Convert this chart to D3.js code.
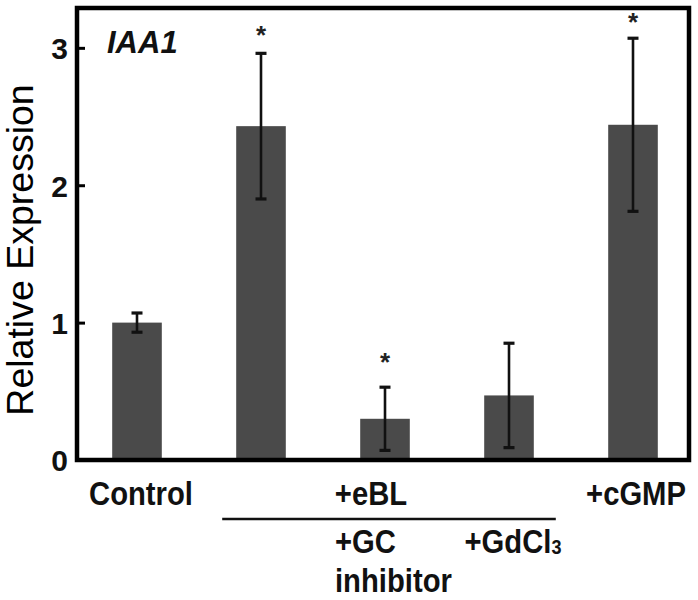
<!DOCTYPE html>
<html>
<head>
<meta charset="utf-8">
<script src="https://cdn.jsdelivr.net/npm/d3@7"></script>
<style>
  html, body { margin: 0; padding: 0; background: #fff; }
  svg { display: block; }
</style>
</head>
<body>
<svg id="chart" width="698" height="600"></svg>
<script>
// ---- data ----
const categories = ["Control", "+eBL", "+eBL +GC inhibitor", "+eBL +GdCl3", "+cGMP"];
const values = [1.00, 2.43, 0.30, 0.47, 2.44];
const errors = [0.07, 0.53, 0.23, 0.38, 0.63];
const significant = [false, true, true, false, true];
const starLevels = [null, 3.11, 0.73, null, 3.20];
const yTicks = [0, 1, 2, 3];
const geneLabel = "IAA1";
const yTitle = "Relative Expression";

(function () {
// ---- layout ----
const svg = d3.select("#chart");
const pLeft = 77, pRight = 689, pTop = 8, pBottom = 460;
const labelFont = "'Liberation Sans', Arial, sans-serif";

const x = d3.scaleBand().domain(categories).range([75, 695]).paddingInner(0.6).paddingOuter(0.3);
const y = d3.scaleLinear().domain([0, 3.29]).range([pBottom, pTop]);
const cx = c => x(c) + x.bandwidth() / 2;

// bars
svg.append("g").selectAll("rect").data(categories).join("rect")
  .attr("x", d => x(d))
  .attr("width", x.bandwidth())
  .attr("y", (d, i) => y(values[i]))
  .attr("height", (d, i) => y(0) - y(values[i]))
  .attr("fill", "#4a4a4a");

// error bars
const eg = svg.append("g").attr("stroke", "#111").attr("stroke-width", 2.6);
categories.forEach((c, i) => {
  const xc = cx(c);
  const hi = y(values[i] + errors[i]), lo = y(values[i] - errors[i]);
  eg.append("line").attr("x1", xc).attr("x2", xc).attr("y1", hi).attr("y2", lo);
  eg.append("line").attr("x1", xc - 5.5).attr("x2", xc + 5.5).attr("y1", hi).attr("y2", hi).attr("stroke-width", 3.2);
  eg.append("line").attr("x1", xc - 5.5).attr("x2", xc + 5.5).attr("y1", lo).attr("y2", lo).attr("stroke-width", 3.2);
});

// significance stars
svg.append("g").selectAll("text").data(categories.filter((c, i) => significant[i])).join("text")
  .attr("x", d => cx(d))
  .attr("y", d => y(starLevels[categories.indexOf(d)]) + 11)
  .attr("text-anchor", "middle")
  .attr("font-family", "'Liberation Sans', Arial, sans-serif")
  .attr("font-weight", "bold")
  .attr("font-size", 26)
  .attr("fill", "#222")
  .text("*");

// frame
svg.append("rect")
  .attr("x", pLeft).attr("y", pTop)
  .attr("width", pRight - pLeft).attr("height", pBottom - pTop)
  .attr("fill", "none").attr("stroke", "#000").attr("stroke-width", 4.5);

// y axis
const yAxis = d3.axisLeft(y).tickValues(yTicks).tickSize(-8).tickPadding(9).tickFormat(d3.format("d"));
const ga = svg.append("g").attr("transform", `translate(${pLeft},0)`).call(yAxis);
ga.select(".domain").remove();
ga.selectAll(".tick line").attr("stroke", "#000").attr("stroke-width", 3);
ga.selectAll(".tick text")
  .attr("font-family", "'Liberation Sans', Arial, sans-serif")
  .attr("font-weight", "bold")
  .attr("font-size", 30)
  .attr("fill", "#111")
  .attr("dy", "0.36em");

// y title
svg.append("text")
  .attr("transform", `translate(33, ${(pTop + pBottom) / 2 + 16}) rotate(-90)`)
  .attr("text-anchor", "middle")
  .attr("font-family", "'Liberation Sans', Arial, sans-serif")
  .attr("font-size", 37.5)
  .attr("fill", "#000")
  .text(yTitle);

// gene label
svg.append("text")
  .attr("x", 107).attr("y", 53)
  .attr("font-family", "'Liberation Sans', Arial, sans-serif")
  .attr("font-weight", "bold").attr("font-style", "italic")
  .attr("font-size", 31)
  .attr("fill", "#111")
  .text(geneLabel);

// category labels (condensed face)
const lab = (t, xx, yy, anchor) => svg.append("g")
  .attr("transform", `translate(${xx},${yy}) scale(0.86,1)`)
  .append("text")
  .attr("text-anchor", anchor || "middle")
  .attr("font-family", labelFont)
  .attr("font-weight", "bold")
  .attr("font-size", 34)
  .attr("fill", "#111")
  .text(t);

lab("Control", cx(categories[0]) + 4, 505);
lab("+eBL", cx(categories[2]) - 14, 505);
lab("+cGMP", cx(categories[4]) + 3, 505);
lab("+GC", cx(categories[2]) - 50, 553, "start");
lab("inhibitor", cx(categories[2]) - 50, 592, "start");
const gd = lab("+GdCl", cx(categories[3]) + 4, 553);
gd.append("tspan").attr("font-size", 21).attr("dy", 1).text("3");

// bracket under +eBL
svg.append("line")
  .attr("x1", x(categories[1]) - 14).attr("x2", x(categories[3]) + x.bandwidth() + 22)
  .attr("y1", 519).attr("y2", 519)
  .attr("stroke", "#111").attr("stroke-width", 2.5);
})();
</script>
</body>
</html>
